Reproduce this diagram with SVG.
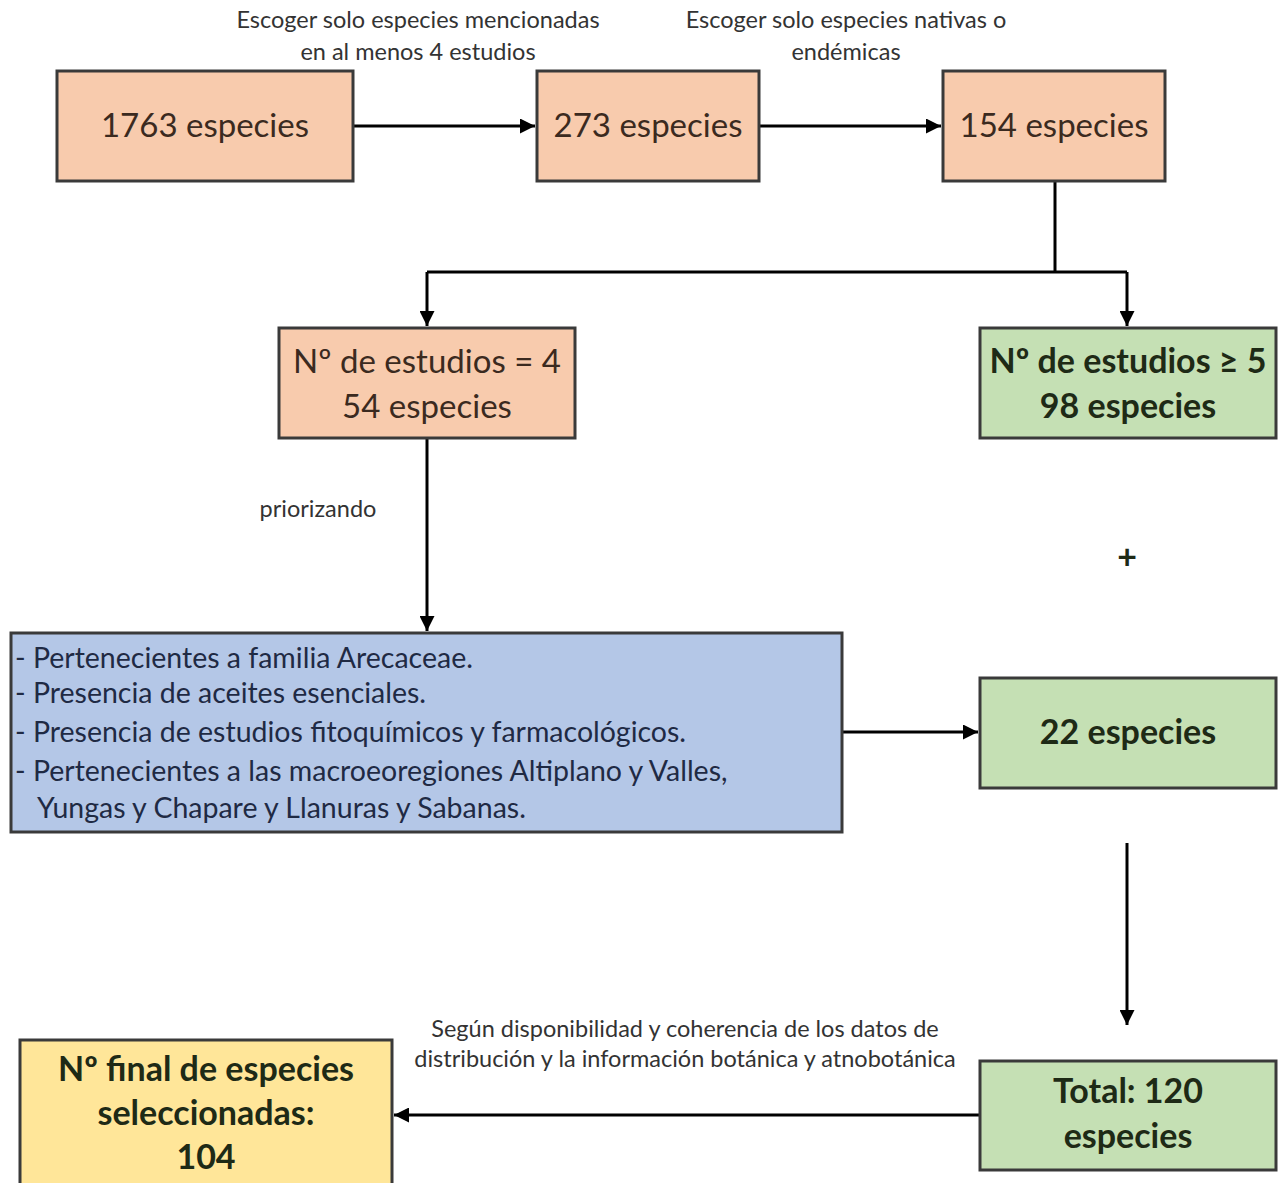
<svg xmlns="http://www.w3.org/2000/svg" width="1278" height="1183" viewBox="0 0 1278 1183">
<defs>
<marker id="ah" viewBox="0 0 10 10" refX="10" refY="5" markerWidth="5" markerHeight="5" orient="auto-start-reverse" markerUnits="strokeWidth">
<path d="M0,0 L10,5 L0,10 z" fill="#000"/>
</marker>
</defs>
<style>
.box{stroke:#3a3a3a;stroke-width:3}
.peach{fill:#f8cbad}
.green{fill:#c5e0b4}
.blue{fill:#b4c7e7}
.yellow{fill:#ffe699}
.t{font-family:Lato,"Noto Sans",sans-serif;text-anchor:middle}
.big{font-size:33px;fill:#3b2a20}
.bold{font-size:34px;font-weight:bold;fill:#1e2a16}
.lbl{font-size:23.5px;fill:#333}
.list{font-family:Lato,"Noto Sans",sans-serif;font-size:28.5px;fill:#1f2a44}
.c{stroke:#000;stroke-width:3;fill:none}
</style>
<rect width="1278" height="1183" fill="#fff"/>
<g id="connectors">
<line class="c" x1="353" y1="126" x2="535" y2="126" marker-end="url(#ah)"/>
<line class="c" x1="759" y1="126" x2="941" y2="126" marker-end="url(#ah)"/>
<polyline class="c" points="1055,181 1055,272"/>
<line class="c" x1="427" y1="272" x2="1127" y2="272"/>
<line class="c" x1="427" y1="272" x2="427" y2="326" marker-end="url(#ah)"/>
<line class="c" x1="1127" y1="272" x2="1127" y2="326" marker-end="url(#ah)"/>
<line class="c" x1="427" y1="438" x2="427" y2="631" marker-end="url(#ah)"/>
<line class="c" x1="842" y1="732" x2="978" y2="732" marker-end="url(#ah)"/>
<line class="c" x1="1127" y1="843" x2="1127" y2="1025" marker-end="url(#ah)"/>
<line class="c" x1="980" y1="1115" x2="394" y2="1115" marker-end="url(#ah)"/>
<text class="t lbl" x="418" y="28">Escoger solo especies mencionadas</text>
<text class="t lbl" x="418" y="60">en al menos 4 estudios</text>
<text class="t lbl" x="846" y="28">Escoger solo especies nativas o</text>
<text class="t lbl" x="846" y="60">endémicas</text>
<text class="t lbl" x="318" y="517">priorizando</text>
<text class="t lbl" x="685" y="1037">Según disponibilidad y coherencia de los datos de</text>
<text class="t lbl" x="685" y="1067">distribución y la información botánica y atnobotánica</text>
<text class="t bold" x="1127" y="569">+</text>
</g>
<g id="n1"><rect class="box peach" x="57" y="71" width="296" height="110"/><text class="t big" x="205" y="137">1763 especies</text></g>
<g id="n2"><rect class="box peach" x="537" y="71" width="222" height="110"/><text class="t big" x="648" y="137">273 especies</text></g>
<g id="n3"><rect class="box peach" x="943" y="71" width="222" height="110"/><text class="t big" x="1054" y="137">154 especies</text></g>
<g id="n4"><rect class="box peach" x="279" y="328" width="296" height="110"/><text class="t big" x="427" y="373">Nº  de estudios = 4</text><text class="t big" x="427" y="418">54 especies</text></g>
<g id="n5"><rect class="box green" x="980" y="328" width="296" height="110"/><text class="t bold" x="1128" y="373">Nº de estudios ≥ 5</text><text class="t bold" x="1128" y="418">98 especies</text></g>
<g id="n6"><rect class="box blue" x="11" y="633" width="831" height="199"/>
<text class="list" x="15" y="668">- Pertenecientes a familia Arecaceae.</text>
<text class="list" x="15" y="703">- Presencia de aceites esenciales.</text>
<text class="list" x="15" y="742">- Presencia de estudios fitoquímicos y farmacológicos.</text>
<text class="list" x="15" y="781">- Pertenecientes a las macroeoregiones Altiplano y Valles,</text>
<text class="list" x="37" y="818">Yungas y Chapare y Llanuras y Sabanas.</text>
</g>
<g id="n7"><rect class="box green" x="980" y="678" width="296" height="110"/><text class="t bold" x="1128" y="744">22 especies</text></g>
<g id="n8"><rect class="box green" x="980" y="1061" width="296" height="109"/><text class="t bold" x="1128" y="1103">Total: 120</text><text class="t bold" x="1128" y="1148">especies</text></g>
<g id="n9"><rect class="box yellow" x="20" y="1040" width="372" height="160"/><text class="t bold" x="206" y="1081">Nº final de especies</text><text class="t bold" x="206" y="1125">seleccionadas:</text><text class="t bold" x="206" y="1169">104</text></g>
</svg>
